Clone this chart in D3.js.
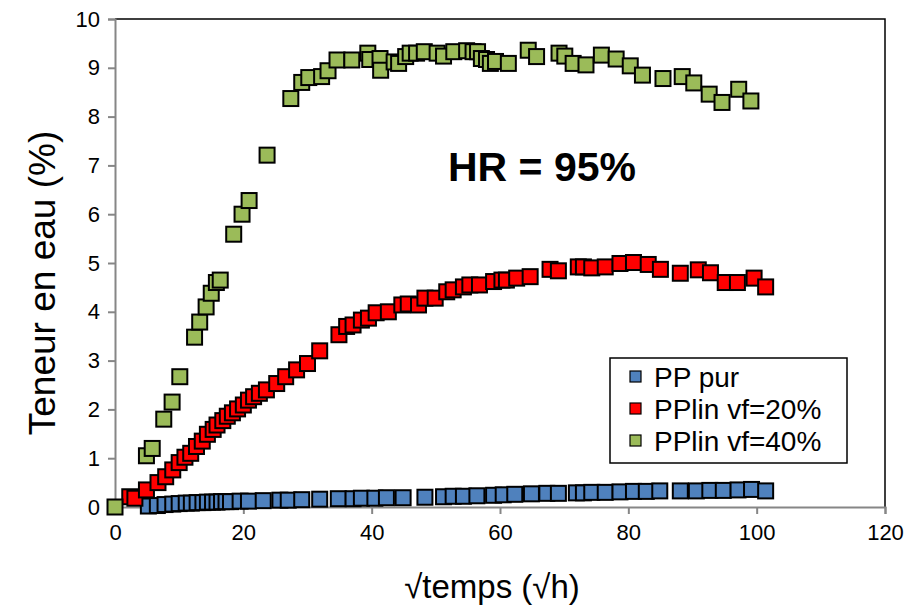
<!DOCTYPE html>
<html lang="fr">
<head>
  <meta charset="UTF-8" />
  <title>Teneur en eau - HR 95%</title>
  <script src="https://cdn.jsdelivr.net/npm/d3@7"></script>
  <style>
    body {
      margin: 0;
      background: #fff;
      font-family: "Liberation Sans", Arial, sans-serif;
    }
  </style>
</head>
<body>
  <svg id="chart"></svg>
  <script>
// Series values: x = sqrt(time), y = water content (%)
const ppPurX = [5.2, 6.6, 7.8, 9.0, 10.0, 11.1, 11.9, 12.8, 13.7, 14.4, 15.2, 15.9, 16.6, 17.3, 18.0, 19.5, 20.8, 23.1, 25.7, 27.0, 29.1, 31.9, 34.8, 37.1, 38.4, 40.5, 42.3, 44.9, 48.3, 51.2, 52.7, 54.3, 56.4, 59.0, 60.5, 62.3, 64.9, 67.3, 69.1, 71.9, 73.0, 74.3, 76.4, 78.7, 80.8, 82.8, 84.9, 88.1, 90.6, 92.7, 94.8, 97.1, 99.2, 101.4];
const ppPurY = [0.02, 0.03, 0.05, 0.06, 0.07, 0.08, 0.08, 0.09, 0.09, 0.10, 0.10, 0.10, 0.11, 0.11, 0.11, 0.12, 0.12, 0.13, 0.14, 0.14, 0.15, 0.16, 0.17, 0.17, 0.18, 0.18, 0.19, 0.19, 0.20, 0.21, 0.22, 0.22, 0.23, 0.24, 0.25, 0.26, 0.27, 0.28, 0.28, 0.29, 0.29, 0.30, 0.30, 0.31, 0.32, 0.32, 0.33, 0.33, 0.33, 0.34, 0.34, 0.35, 0.36, 0.33];

const pp20X = [2.3, 3.1, 4.9, 6.7, 7.9, 9.0, 10.0, 10.9, 11.8, 12.7, 13.6, 14.4, 15.3, 15.9, 16.8, 17.5, 18.3, 19.1, 20.0, 20.8, 21.6, 22.5, 23.6, 25.2, 26.6, 28.3, 30.0, 31.9, 34.9, 36.1, 37.1, 38.4, 39.5, 40.7, 42.6, 44.7, 45.7, 47.3, 48.3, 49.9, 51.7, 52.7, 54.3, 55.3, 56.8, 59.0, 60.3, 61.0, 62.6, 64.7, 67.8, 69.1, 72.2, 73.0, 74.3, 76.4, 78.7, 80.8, 83.1, 85.0, 88.1, 90.9, 92.8, 95.1, 97.0, 99.6, 101.4];
const pp20Y = [0.21, 0.18, 0.35, 0.50, 0.62, 0.76, 0.91, 1.02, 1.10, 1.24, 1.35, 1.49, 1.59, 1.68, 1.77, 1.86, 1.93, 2.01, 2.09, 2.19, 2.26, 2.33, 2.40, 2.53, 2.67, 2.81, 2.94, 3.20, 3.53, 3.70, 3.73, 3.83, 3.87, 3.98, 4.00, 4.14, 4.16, 4.14, 4.28, 4.28, 4.41, 4.45, 4.51, 4.55, 4.55, 4.62, 4.65, 4.65, 4.69, 4.72, 4.87, 4.84, 4.92, 4.92, 4.90, 4.92, 4.99, 5.01, 4.97, 4.87, 4.79, 4.86, 4.80, 4.60, 4.60, 4.69, 4.51];

const pp40X = [0, 4.9, 5.8, 7.6, 8.9, 10.1, 12.4, 13.2, 14.2, 15.0, 15.8, 16.4, 18.5, 19.8, 20.9, 23.7, 27.4, 29.1, 30.2, 32.2, 33.2, 34.6, 36.9, 39.4, 39.7, 41.3, 41.4, 43.5, 44.2, 45.3, 46.0, 47.0, 48.2, 50.2, 51.2, 52.8, 54.8, 55.8, 56.5, 57.1, 57.9, 58.5, 59.3, 61.3, 64.4, 65.7, 69.2, 70.1, 71.4, 73.4, 75.8, 78.1, 80.3, 82.2, 85.4, 88.4, 90.2, 92.6, 94.6, 97.2, 99.1];
const pp40Y = [0, 1.05, 1.20, 1.80, 2.15, 2.67, 3.48, 3.79, 4.10, 4.38, 4.60, 4.65, 5.59, 6.00, 6.28, 7.21, 8.37, 8.70, 8.80, 8.82, 8.94, 9.16, 9.16, 9.30, 9.17, 9.19, 8.95, 9.12, 9.09, 9.23, 9.30, 9.30, 9.33, 9.30, 9.24, 9.33, 9.35, 9.33, 9.33, 9.19, 9.17, 9.09, 9.13, 9.09, 9.36, 9.23, 9.30, 9.24, 9.09, 9.06, 9.26, 9.18, 9.04, 8.85, 8.78, 8.82, 8.69, 8.46, 8.29, 8.56, 8.32];

const seriesNames = ["PP pur", "PPlin vf=20%", "PPlin vf=40%"];
const seriesColors = ["#4f81bd", "#ff0000", "#9bbb59"];
const xTicks = [0, 20, 40, 60, 80, 100, 120];
const yTicks = [0, 1, 2, 3, 4, 5, 6, 7, 8, 9, 10];

const width = 918, height = 611;
const margin = {top: 19, right: 33, bottom: 104, left: 115};

const svg = d3.select("#chart")
  .attr("width", width)
  .attr("height", height);

const x = d3.scaleLinear().domain([0, 120]).range([margin.left, width - margin.right]);
const y = d3.scaleLinear().domain([0, 10]).range([height - margin.bottom, margin.top]);

// plot area border (right / top)
svg.append("path")
  .attr("d", `M${x(0)},${y(10)}H${x(120)}V${y(0)}`)
  .attr("fill", "none")
  .attr("stroke", "#000")
  .attr("stroke-width", 1.5);

// axes
const xAxis = svg.append("g")
  .attr("transform", `translate(0,${y(0)})`)
  .call(d3.axisBottom(x).tickValues(xTicks).tickSize(7).tickPadding(10));

const yAxis = svg.append("g")
  .attr("transform", `translate(${x(0)},0)`)
  .call(d3.axisLeft(y).tickValues(yTicks).tickSize(7).tickPadding(8));

[xAxis, yAxis].forEach(g => {
  g.select(".domain").attr("stroke", "#868686").attr("stroke-width", 2);
  g.selectAll(".tick line").attr("stroke", "#868686").attr("stroke-width", 2);
  g.selectAll(".tick text")
    .attr("fill", "#000")
    .style("font-family", "'Liberation Sans', Arial, sans-serif")
    .style("font-size", "22px");
});

// axis titles
svg.append("text")
  .attr("x", (x(0) + x(120)) / 2 - 8)
  .attr("y", 598)
  .attr("text-anchor", "middle")
  .style("font-size", "33px")
  .text("√temps (√h)");

svg.append("text")
  .attr("transform", `translate(55,${(y(0) + y(10)) / 2 + 20}) rotate(-90)`)
  .attr("text-anchor", "middle")
  .style("font-size", "37px")
  .text("Teneur en eau (%)");

// annotation
svg.append("text")
  .attr("x", 542)
  .attr("y", 181)
  .attr("text-anchor", "middle")
  .style("font-size", "41px")
  .style("font-weight", "bold")
  .text("HR = 95%");

// markers
const series = [
  {xs: ppPurX, ys: ppPurY},
  {xs: pp20X, ys: pp20Y},
  {xs: pp40X, ys: pp40Y}
];
const size = 15;

series.forEach((s, i) => {
  svg.append("g")
    .selectAll("rect")
    .data(s.xs.map((v, j) => [v, s.ys[j]]))
    .join("rect")
    .attr("x", d => x(d[0]) - size / 2)
    .attr("y", d => y(d[1]) - size / 2)
    .attr("width", size)
    .attr("height", size)
    .attr("fill", seriesColors[i])
    .attr("stroke", "#000")
    .attr("stroke-width", 2);
});

// legend
const legend = svg.append("g").attr("transform", "translate(610,358)");
legend.append("rect")
  .attr("width", 237)
  .attr("height", 105)
  .attr("fill", "#fff")
  .attr("stroke", "#000")
  .attr("stroke-width", 1.5);

seriesNames.forEach((name, i) => {
  const row = legend.append("g").attr("transform", `translate(0,${19 + i * 32})`);
  row.append("rect")
    .attr("x", 20)
    .attr("y", -6)
    .attr("width", 11)
    .attr("height", 11)
    .attr("fill", seriesColors[i])
    .attr("stroke", "#000")
    .attr("stroke-width", 1.2);
  row.append("text")
    .attr("x", 44)
    .attr("y", 10)
    .style("font-size", "28px")
    .text(name);
});
  </script>
</body>
</html>
